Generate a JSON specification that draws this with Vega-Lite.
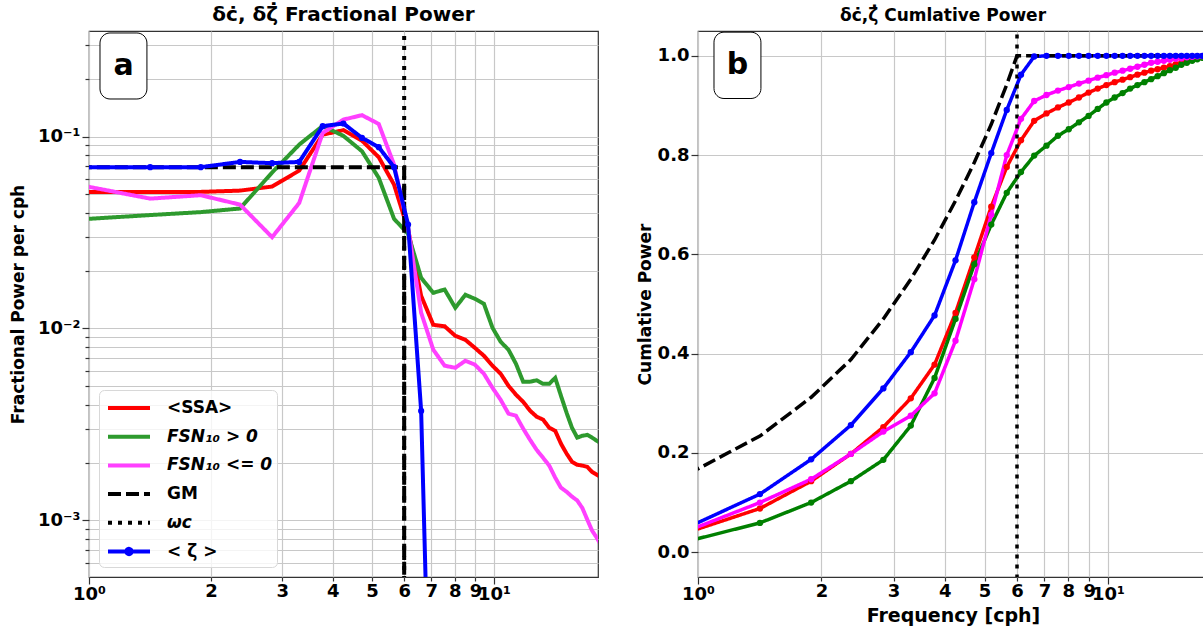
{
"$schema":"https://vega.github.io/schema/vega-lite/v6.json",
"background":"white",
"padding":{"left":8,"top":4,"right":0,"bottom":0},
"config":{
"font":"DejaVu Sans",
"view":{"stroke":"#333333","strokeWidth":1.2},
"axis":{"labelFont":"DejaVu Sans","labelFontWeight":"bold","labelFontSize":18,"labelColor":"black","titleFont":"DejaVu Sans","titleFontWeight":"bold","titleFontSize":17,"titleColor":"black","domain":false,"tickColor":"#333333","tickWidth":1.2,"gridColor":"#c8c8c8","gridWidth":1.2,"labelFlush":false,"labelOverlap":false,"labelBound":false},
"title":{"font":"DejaVu Sans","fontWeight":"bold","fontSize":19,"offset":6,"color":"black","anchor":"middle","frame":"group"},
"concat":{"spacing":36}
},
"resolve":{"scale":{"color":"independent","strokeDash":"independent","x":"independent","y":"independent"}},
"datasets":{"d":[
{"p":"a","s":"<SSA>","f":0.944,"v":0.0515},{"p":"a","s":"<SSA>","f":1.416,"v":0.0515},{"p":"a","s":"<SSA>","f":1.888,"v":0.0515},{"p":"a","s":"<SSA>","f":2.36,"v":0.0523},{"p":"a","s":"<SSA>","f":2.832,"v":0.0549},{"p":"a","s":"<SSA>","f":3.304,"v":0.0665},{"p":"a","s":"<SSA>","f":3.776,"v":0.1024},{"p":"a","s":"<SSA>","f":4.248,"v":0.108},{"p":"a","s":"<SSA>","f":4.72,"v":0.0953},{"p":"a","s":"<SSA>","f":5.192,"v":0.0781},{"p":"a","s":"<SSA>","f":5.664,"v":0.0562},{"p":"a","s":"<SSA>","f":6.136,"v":0.0327},{"p":"a","s":"<SSA>","f":6.608,"v":0.0148},{"p":"a","s":"<SSA>","f":7.08,"v":0.01045},{"p":"a","s":"<SSA>","f":7.552,"v":0.01027},{"p":"a","s":"<SSA>","f":8.024,"v":0.00916},{"p":"a","s":"<SSA>","f":8.496,"v":0.00873},{"p":"a","s":"<SSA>","f":8.968,"v":0.00793},{"p":"a","s":"<SSA>","f":9.44,"v":0.00721},{"p":"a","s":"<SSA>","f":9.912,"v":0.0064},{"p":"a","s":"<SSA>","f":10.384,"v":0.00581},{"p":"a","s":"<SSA>","f":10.856,"v":0.00503},{"p":"a","s":"<SSA>","f":11.328,"v":0.00452},{"p":"a","s":"<SSA>","f":11.8,"v":0.00415},{"p":"a","s":"<SSA>","f":12.272,"v":0.00373},{"p":"a","s":"<SSA>","f":12.744,"v":0.00347},{"p":"a","s":"<SSA>","f":13.216,"v":0.00335},{"p":"a","s":"<SSA>","f":13.688,"v":0.00304},{"p":"a","s":"<SSA>","f":14.16,"v":0.00293},{"p":"a","s":"<SSA>","f":14.632,"v":0.00251},{"p":"a","s":"<SSA>","f":15.104,"v":0.00223},{"p":"a","s":"<SSA>","f":15.576,"v":0.00202},{"p":"a","s":"<SSA>","f":16.048,"v":0.00195},{"p":"a","s":"<SSA>","f":16.52,"v":0.00193},{"p":"a","s":"<SSA>","f":16.992,"v":0.0019},{"p":"a","s":"<SSA>","f":17.464,"v":0.00179},{"p":"a","s":"<SSA>","f":17.936,"v":0.00173},{"p":"a","s":"<SSA>","f":18.408,"v":0.00167},
{"p":"a","s":"FSN₁₀ > 0","f":0.944,"v":0.037},{"p":"a","s":"FSN₁₀ > 0","f":1.416,"v":0.039},{"p":"a","s":"FSN₁₀ > 0","f":1.888,"v":0.0404},{"p":"a","s":"FSN₁₀ > 0","f":2.36,"v":0.0422},{"p":"a","s":"FSN₁₀ > 0","f":2.832,"v":0.065},{"p":"a","s":"FSN₁₀ > 0","f":3.304,"v":0.0908},{"p":"a","s":"FSN₁₀ > 0","f":3.776,"v":0.1137},{"p":"a","s":"FSN₁₀ > 0","f":4.248,"v":0.1008},{"p":"a","s":"FSN₁₀ > 0","f":4.72,"v":0.0839},{"p":"a","s":"FSN₁₀ > 0","f":5.192,"v":0.061},{"p":"a","s":"FSN₁₀ > 0","f":5.664,"v":0.0373},{"p":"a","s":"FSN₁₀ > 0","f":6.136,"v":0.0311},{"p":"a","s":"FSN₁₀ > 0","f":6.608,"v":0.01837},{"p":"a","s":"FSN₁₀ > 0","f":7.08,"v":0.01534},{"p":"a","s":"FSN₁₀ > 0","f":7.552,"v":0.01596},{"p":"a","s":"FSN₁₀ > 0","f":8.024,"v":0.01282},{"p":"a","s":"FSN₁₀ > 0","f":8.496,"v":0.01498},{"p":"a","s":"FSN₁₀ > 0","f":8.968,"v":0.01428},{"p":"a","s":"FSN₁₀ > 0","f":9.44,"v":0.01346},{"p":"a","s":"FSN₁₀ > 0","f":9.912,"v":0.01009},{"p":"a","s":"FSN₁₀ > 0","f":10.384,"v":0.00853},{"p":"a","s":"FSN₁₀ > 0","f":10.856,"v":0.00775},{"p":"a","s":"FSN₁₀ > 0","f":11.328,"v":0.00655},{"p":"a","s":"FSN₁₀ > 0","f":11.8,"v":0.00528},{"p":"a","s":"FSN₁₀ > 0","f":12.272,"v":0.00528},{"p":"a","s":"FSN₁₀ > 0","f":12.744,"v":0.00537},{"p":"a","s":"FSN₁₀ > 0","f":13.216,"v":0.00515},{"p":"a","s":"FSN₁₀ > 0","f":13.688,"v":0.00515},{"p":"a","s":"FSN₁₀ > 0","f":14.16,"v":0.00553},{"p":"a","s":"FSN₁₀ > 0","f":14.632,"v":0.00446},{"p":"a","s":"FSN₁₀ > 0","f":15.104,"v":0.00364},{"p":"a","s":"FSN₁₀ > 0","f":15.576,"v":0.00304},{"p":"a","s":"FSN₁₀ > 0","f":16.048,"v":0.0027},{"p":"a","s":"FSN₁₀ > 0","f":16.52,"v":0.00276},{"p":"a","s":"FSN₁₀ > 0","f":16.992,"v":0.00279},{"p":"a","s":"FSN₁₀ > 0","f":17.464,"v":0.0027},{"p":"a","s":"FSN₁₀ > 0","f":17.936,"v":0.0026},{"p":"a","s":"FSN₁₀ > 0","f":18.408,"v":0.00251},
{"p":"a","s":"FSN₁₀ <= 0","f":0.944,"v":0.056},{"p":"a","s":"FSN₁₀ <= 0","f":1.416,"v":0.0475},{"p":"a","s":"FSN₁₀ <= 0","f":1.888,"v":0.0495},{"p":"a","s":"FSN₁₀ <= 0","f":2.36,"v":0.0442},{"p":"a","s":"FSN₁₀ <= 0","f":2.832,"v":0.0299},{"p":"a","s":"FSN₁₀ <= 0","f":3.304,"v":0.0451},{"p":"a","s":"FSN₁₀ <= 0","f":3.776,"v":0.1045},{"p":"a","s":"FSN₁₀ <= 0","f":4.248,"v":0.1226},{"p":"a","s":"FSN₁₀ <= 0","f":4.72,"v":0.1293},{"p":"a","s":"FSN₁₀ <= 0","f":5.192,"v":0.1164},{"p":"a","s":"FSN₁₀ <= 0","f":5.664,"v":0.0715},{"p":"a","s":"FSN₁₀ <= 0","f":6.136,"v":0.03345},{"p":"a","s":"FSN₁₀ <= 0","f":6.608,"v":0.01208},{"p":"a","s":"FSN₁₀ <= 0","f":7.08,"v":0.00775},{"p":"a","s":"FSN₁₀ <= 0","f":7.552,"v":0.0064},{"p":"a","s":"FSN₁₀ <= 0","f":8.024,"v":0.00624},{"p":"a","s":"FSN₁₀ <= 0","f":8.496,"v":0.00679},{"p":"a","s":"FSN₁₀ <= 0","f":8.968,"v":0.00648},{"p":"a","s":"FSN₁₀ <= 0","f":9.44,"v":0.00581},{"p":"a","s":"FSN₁₀ <= 0","f":9.912,"v":0.00491},{"p":"a","s":"FSN₁₀ <= 0","f":10.384,"v":0.00425},{"p":"a","s":"FSN₁₀ <= 0","f":10.856,"v":0.0036},{"p":"a","s":"FSN₁₀ <= 0","f":11.328,"v":0.00351},{"p":"a","s":"FSN₁₀ <= 0","f":11.8,"v":0.00301},{"p":"a","s":"FSN₁₀ <= 0","f":12.272,"v":0.00263},{"p":"a","s":"FSN₁₀ <= 0","f":12.744,"v":0.00233},{"p":"a","s":"FSN₁₀ <= 0","f":13.216,"v":0.00212},{"p":"a","s":"FSN₁₀ <= 0","f":13.688,"v":0.00193},{"p":"a","s":"FSN₁₀ <= 0","f":14.16,"v":0.00167},{"p":"a","s":"FSN₁₀ <= 0","f":14.632,"v":0.00148},{"p":"a","s":"FSN₁₀ <= 0","f":15.104,"v":0.00141},{"p":"a","s":"FSN₁₀ <= 0","f":15.576,"v":0.00133},{"p":"a","s":"FSN₁₀ <= 0","f":16.048,"v":0.00127},{"p":"a","s":"FSN₁₀ <= 0","f":16.52,"v":0.00116},{"p":"a","s":"FSN₁₀ <= 0","f":16.992,"v":0.00101},{"p":"a","s":"FSN₁₀ <= 0","f":17.464,"v":0.000884},{"p":"a","s":"FSN₁₀ <= 0","f":17.936,"v":0.000812},{"p":"a","s":"FSN₁₀ <= 0","f":18.408,"v":0.000738},
{"p":"a","s":"GM","f":0.944,"v":0.0693},{"p":"a","s":"GM","f":6.0,"v":0.0693},{"p":"a","s":"GM","f":6.0,"v":1e-8},
{"p":"a","s":"ωc","f":6.0,"v":1e-8},{"p":"a","s":"ωc","f":6.0,"v":10},
{"p":"a","s":"< ζ >","f":0.944,"v":0.0693},{"p":"a","s":"< ζ >","f":1.416,"v":0.0693},{"p":"a","s":"< ζ >","f":1.888,"v":0.0693},{"p":"a","s":"< ζ >","f":2.36,"v":0.0738},{"p":"a","s":"< ζ >","f":2.832,"v":0.0727},{"p":"a","s":"< ζ >","f":3.304,"v":0.0738},{"p":"a","s":"< ζ >","f":3.776,"v":0.1133},{"p":"a","s":"< ζ >","f":4.248,"v":0.117},{"p":"a","s":"< ζ >","f":4.72,"v":0.0985},{"p":"a","s":"< ζ >","f":5.192,"v":0.0881},{"p":"a","s":"< ζ >","f":5.664,"v":0.0693},{"p":"a","s":"< ζ >","f":6.136,"v":0.0348},{"p":"a","s":"< ζ >","f":6.608,"v":0.00372},{"p":"a","s":"< ζ >","f":7.08,"v":0.000015},
{"p":"b","s":"<SSA>","f":0.944,"v":0.04},{"p":"b","s":"<SSA>","f":1.416,"v":0.088},{"p":"b","s":"<SSA>","f":1.888,"v":0.143},{"p":"b","s":"<SSA>","f":2.36,"v":0.198},{"p":"b","s":"<SSA>","f":2.832,"v":0.252},{"p":"b","s":"<SSA>","f":3.304,"v":0.31},{"p":"b","s":"<SSA>","f":3.776,"v":0.378},{"p":"b","s":"<SSA>","f":4.248,"v":0.482},{"p":"b","s":"<SSA>","f":4.72,"v":0.594},{"p":"b","s":"<SSA>","f":5.192,"v":0.696},{"p":"b","s":"<SSA>","f":5.664,"v":0.776},{"p":"b","s":"<SSA>","f":6.136,"v":0.83},{"p":"b","s":"<SSA>","f":6.608,"v":0.869},{"p":"b","s":"<SSA>","f":7.08,"v":0.884},{"p":"b","s":"<SSA>","f":7.552,"v":0.896},{"p":"b","s":"<SSA>","f":8.024,"v":0.906},{"p":"b","s":"<SSA>","f":8.496,"v":0.916},{"p":"b","s":"<SSA>","f":8.968,"v":0.926},{"p":"b","s":"<SSA>","f":9.44,"v":0.934},{"p":"b","s":"<SSA>","f":9.912,"v":0.941},{"p":"b","s":"<SSA>","f":10.384,"v":0.947},{"p":"b","s":"<SSA>","f":10.856,"v":0.952},{"p":"b","s":"<SSA>","f":11.328,"v":0.957},{"p":"b","s":"<SSA>","f":11.8,"v":0.962},{"p":"b","s":"<SSA>","f":12.272,"v":0.966},{"p":"b","s":"<SSA>","f":12.744,"v":0.97},{"p":"b","s":"<SSA>","f":13.216,"v":0.973},{"p":"b","s":"<SSA>","f":13.688,"v":0.976},{"p":"b","s":"<SSA>","f":14.16,"v":0.979},{"p":"b","s":"<SSA>","f":14.632,"v":0.983},{"p":"b","s":"<SSA>","f":15.104,"v":0.986},{"p":"b","s":"<SSA>","f":15.576,"v":0.989},{"p":"b","s":"<SSA>","f":16.048,"v":0.992},{"p":"b","s":"<SSA>","f":16.52,"v":0.995},{"p":"b","s":"<SSA>","f":16.992,"v":0.997},{"p":"b","s":"<SSA>","f":17.464,"v":0.999},{"p":"b","s":"<SSA>","f":17.936,"v":1.0},
{"p":"b","s":"FSN₁₀ > 0","f":0.944,"v":0.022},{"p":"b","s":"FSN₁₀ > 0","f":1.416,"v":0.059},{"p":"b","s":"FSN₁₀ > 0","f":1.888,"v":0.1},{"p":"b","s":"FSN₁₀ > 0","f":2.36,"v":0.143},{"p":"b","s":"FSN₁₀ > 0","f":2.832,"v":0.186},{"p":"b","s":"FSN₁₀ > 0","f":3.304,"v":0.255},{"p":"b","s":"FSN₁₀ > 0","f":3.776,"v":0.351},{"p":"b","s":"FSN₁₀ > 0","f":4.248,"v":0.47},{"p":"b","s":"FSN₁₀ > 0","f":4.72,"v":0.58},{"p":"b","s":"FSN₁₀ > 0","f":5.192,"v":0.66},{"p":"b","s":"FSN₁₀ > 0","f":5.664,"v":0.724},{"p":"b","s":"FSN₁₀ > 0","f":6.136,"v":0.766},{"p":"b","s":"FSN₁₀ > 0","f":6.608,"v":0.799},{"p":"b","s":"FSN₁₀ > 0","f":7.08,"v":0.819},{"p":"b","s":"FSN₁₀ > 0","f":7.552,"v":0.839},{"p":"b","s":"FSN₁₀ > 0","f":8.024,"v":0.852},{"p":"b","s":"FSN₁₀ > 0","f":8.496,"v":0.866},{"p":"b","s":"FSN₁₀ > 0","f":8.968,"v":0.879},{"p":"b","s":"FSN₁₀ > 0","f":9.44,"v":0.893},{"p":"b","s":"FSN₁₀ > 0","f":9.912,"v":0.906},{"p":"b","s":"FSN₁₀ > 0","f":10.384,"v":0.916},{"p":"b","s":"FSN₁₀ > 0","f":10.856,"v":0.925},{"p":"b","s":"FSN₁₀ > 0","f":11.328,"v":0.934},{"p":"b","s":"FSN₁₀ > 0","f":11.8,"v":0.941},{"p":"b","s":"FSN₁₀ > 0","f":12.272,"v":0.947},{"p":"b","s":"FSN₁₀ > 0","f":12.744,"v":0.953},{"p":"b","s":"FSN₁₀ > 0","f":13.216,"v":0.959},{"p":"b","s":"FSN₁₀ > 0","f":13.688,"v":0.965},{"p":"b","s":"FSN₁₀ > 0","f":14.16,"v":0.971},{"p":"b","s":"FSN₁₀ > 0","f":14.632,"v":0.976},{"p":"b","s":"FSN₁₀ > 0","f":15.104,"v":0.982},{"p":"b","s":"FSN₁₀ > 0","f":15.576,"v":0.986},{"p":"b","s":"FSN₁₀ > 0","f":16.048,"v":0.99},{"p":"b","s":"FSN₁₀ > 0","f":16.52,"v":0.993},{"p":"b","s":"FSN₁₀ > 0","f":16.992,"v":0.996},{"p":"b","s":"FSN₁₀ > 0","f":17.464,"v":0.999},{"p":"b","s":"FSN₁₀ > 0","f":17.936,"v":1.0},
{"p":"b","s":"FSN₁₀ <= 0","f":0.944,"v":0.043},{"p":"b","s":"FSN₁₀ <= 0","f":1.416,"v":0.1},{"p":"b","s":"FSN₁₀ <= 0","f":1.888,"v":0.147},{"p":"b","s":"FSN₁₀ <= 0","f":2.36,"v":0.198},{"p":"b","s":"FSN₁₀ <= 0","f":2.832,"v":0.243},{"p":"b","s":"FSN₁₀ <= 0","f":3.304,"v":0.275},{"p":"b","s":"FSN₁₀ <= 0","f":3.776,"v":0.32},{"p":"b","s":"FSN₁₀ <= 0","f":4.248,"v":0.426},{"p":"b","s":"FSN₁₀ <= 0","f":4.72,"v":0.55},{"p":"b","s":"FSN₁₀ <= 0","f":5.192,"v":0.68},{"p":"b","s":"FSN₁₀ <= 0","f":5.664,"v":0.8},{"p":"b","s":"FSN₁₀ <= 0","f":6.136,"v":0.873},{"p":"b","s":"FSN₁₀ <= 0","f":6.608,"v":0.909},{"p":"b","s":"FSN₁₀ <= 0","f":7.08,"v":0.921},{"p":"b","s":"FSN₁₀ <= 0","f":7.552,"v":0.93},{"p":"b","s":"FSN₁₀ <= 0","f":8.024,"v":0.937},{"p":"b","s":"FSN₁₀ <= 0","f":8.496,"v":0.944},{"p":"b","s":"FSN₁₀ <= 0","f":8.968,"v":0.95},{"p":"b","s":"FSN₁₀ <= 0","f":9.44,"v":0.956},{"p":"b","s":"FSN₁₀ <= 0","f":9.912,"v":0.961},{"p":"b","s":"FSN₁₀ <= 0","f":10.384,"v":0.966},{"p":"b","s":"FSN₁₀ <= 0","f":10.856,"v":0.97},{"p":"b","s":"FSN₁₀ <= 0","f":11.328,"v":0.974},{"p":"b","s":"FSN₁₀ <= 0","f":11.8,"v":0.978},{"p":"b","s":"FSN₁₀ <= 0","f":12.272,"v":0.982},{"p":"b","s":"FSN₁₀ <= 0","f":12.744,"v":0.986},{"p":"b","s":"FSN₁₀ <= 0","f":13.216,"v":0.988},{"p":"b","s":"FSN₁₀ <= 0","f":13.688,"v":0.99},{"p":"b","s":"FSN₁₀ <= 0","f":14.16,"v":0.992},{"p":"b","s":"FSN₁₀ <= 0","f":14.632,"v":0.994},{"p":"b","s":"FSN₁₀ <= 0","f":15.104,"v":0.995},{"p":"b","s":"FSN₁₀ <= 0","f":15.576,"v":0.997},{"p":"b","s":"FSN₁₀ <= 0","f":16.048,"v":0.998},{"p":"b","s":"FSN₁₀ <= 0","f":16.52,"v":0.999},{"p":"b","s":"FSN₁₀ <= 0","f":16.992,"v":0.9995},{"p":"b","s":"FSN₁₀ <= 0","f":17.464,"v":1.0},{"p":"b","s":"FSN₁₀ <= 0","f":17.936,"v":1.0},
{"p":"b","s":"< ζ >","f":0.944,"v":0.05},{"p":"b","s":"< ζ >","f":1.416,"v":0.117},{"p":"b","s":"< ζ >","f":1.888,"v":0.187},{"p":"b","s":"< ζ >","f":2.36,"v":0.256},{"p":"b","s":"< ζ >","f":2.832,"v":0.33},{"p":"b","s":"< ζ >","f":3.304,"v":0.403},{"p":"b","s":"< ζ >","f":3.776,"v":0.477},{"p":"b","s":"< ζ >","f":4.248,"v":0.588},{"p":"b","s":"< ζ >","f":4.72,"v":0.705},{"p":"b","s":"< ζ >","f":5.192,"v":0.804},{"p":"b","s":"< ζ >","f":5.664,"v":0.891},{"p":"b","s":"< ζ >","f":6.136,"v":0.962},{"p":"b","s":"< ζ >","f":6.608,"v":0.9986},{"p":"b","s":"< ζ >","f":7.08,"v":1.0},{"p":"b","s":"< ζ >","f":7.552,"v":1.0},{"p":"b","s":"< ζ >","f":8.024,"v":1.0},{"p":"b","s":"< ζ >","f":8.496,"v":1.0},{"p":"b","s":"< ζ >","f":8.968,"v":1.0},{"p":"b","s":"< ζ >","f":9.44,"v":1.0},{"p":"b","s":"< ζ >","f":9.912,"v":1.0},{"p":"b","s":"< ζ >","f":10.384,"v":1.0},{"p":"b","s":"< ζ >","f":10.856,"v":1.0},{"p":"b","s":"< ζ >","f":11.328,"v":1.0},{"p":"b","s":"< ζ >","f":11.8,"v":1.0},{"p":"b","s":"< ζ >","f":12.272,"v":1.0},{"p":"b","s":"< ζ >","f":12.744,"v":1.0},{"p":"b","s":"< ζ >","f":13.216,"v":1.0},{"p":"b","s":"< ζ >","f":13.688,"v":1.0},{"p":"b","s":"< ζ >","f":14.16,"v":1.0},{"p":"b","s":"< ζ >","f":14.632,"v":1.0},{"p":"b","s":"< ζ >","f":15.104,"v":1.0},{"p":"b","s":"< ζ >","f":15.576,"v":1.0},{"p":"b","s":"< ζ >","f":16.048,"v":1.0},{"p":"b","s":"< ζ >","f":16.52,"v":1.0},{"p":"b","s":"< ζ >","f":16.992,"v":1.0},{"p":"b","s":"< ζ >","f":17.464,"v":1.0},{"p":"b","s":"< ζ >","f":17.936,"v":1.0},
{"p":"b","s":"GM","f":0.944,"v":0.157},{"p":"b","s":"GM","f":1.416,"v":0.234},{"p":"b","s":"GM","f":1.888,"v":0.312},{"p":"b","s":"GM","f":2.36,"v":0.388},{"p":"b","s":"GM","f":2.832,"v":0.47},{"p":"b","s":"GM","f":3.304,"v":0.55},{"p":"b","s":"GM","f":3.776,"v":0.629},{"p":"b","s":"GM","f":4.248,"v":0.708},{"p":"b","s":"GM","f":4.72,"v":0.785},{"p":"b","s":"GM","f":5.192,"v":0.862},{"p":"b","s":"GM","f":5.664,"v":0.942},{"p":"b","s":"GM","f":6.0,"v":1.0},{"p":"b","s":"GM","f":6.136,"v":1.0},{"p":"b","s":"GM","f":8.024,"v":1.0},{"p":"b","s":"GM","f":10.384,"v":1.0},{"p":"b","s":"GM","f":12.744,"v":1.0},{"p":"b","s":"GM","f":14.632,"v":1.0},{"p":"b","s":"GM","f":16.52,"v":1.0},
{"p":"b","s":"ωc","f":6.0,"v":-1},{"p":"b","s":"ωc","f":6.0,"v":2}
]},
"hconcat":[
{
"width":509,"height":546,
"title":{"text":"δċ, δζ̇ Fractional Power","fontSize":20},
"layer":[
{"data":{"name":"d"},"transform":[{"filter":"datum.p === 'a'"}],
"mark":{"type":"line","strokeWidth":4,"clip":true},
"encoding":{
"x":{"field":"f","type":"quantitative","scale":{"type":"log","domain":[1,18.06],"nice":false},
"axis":{"values":[1,2,3,4,5,6,7,8,9,10],"labelExpr":"datum.value == 1 ? '10⁰' : datum.value == 10 ? '10¹' : format(datum.value, 'd')","title":null,"grid":true,"labelPadding":1,"tickSize":{"condition":{"test":"datum.value == 1 || datum.value == 10","value":7},"value":4}}},
"y":{"field":"v","type":"quantitative","scale":{"type":"log","domain":[0.000507,0.355],"nice":false},
"axis":{"values":[0.0006,0.0007,0.0008,0.0009,0.001,0.002,0.003,0.004,0.005,0.006,0.007,0.008,0.009,0.01,0.02,0.03,0.04,0.05,0.06,0.07,0.08,0.09,0.1,0.2,0.3],"labelExpr":"datum.value == 0.1 ? '10⁻¹' : datum.value == 0.01 ? '10⁻²' : datum.value == 0.001 ? '10⁻³' : ''","title":"Fractional Power per cph","grid":true,"minExtent":56,"maxExtent":56,"titlePadding":6,"labelPadding":2,"tickSize":{"condition":{"test":"datum.value == 0.1 || datum.value == 0.01 || datum.value == 0.001","value":7},"value":4}}},
"color":{"field":"s","type":"nominal","scale":{"domain":["<SSA>","FSN₁₀ > 0","FSN₁₀ <= 0","GM","ωc","< ζ >"],"range":["#ff0000","#2e9a2e","#ff40ff","#000000","#000000","#0000ff"]},
"legend":{"orient":"none","legendX":10,"legendY":359,"title":null,"symbolType":"stroke","symbolSize":576,"symbolStrokeWidth":4,"labelFont":"DejaVu Sans","labelFontSize":17,"labelFontWeight":"bold","labelColor":"black","labelOffset":36,"rowPadding":6.7,"padding":4,"fillColor":"rgba(255,255,255,0.8)","strokeColor":"#d8d8d8","cornerRadius":5,
"encode":{"symbols":{"update":{"shape":{"signal":"datum.value === '< ζ >' ? 'M-0.75,0L2.75,0M1.22,0A0.22,0.22,0,1,1,0.78,0A0.22,0.22,0,1,1,1.22,0' : 'M-0.75,0L2.75,0'"}}},"labels":{"update":{"fontStyle":{"signal":"indexof(datum.value,'FSN') >= 0 || datum.value === 'ωc' ? 'italic' : 'normal'"}}}}}},
"strokeDash":{"field":"s","type":"nominal","scale":{"domain":["<SSA>","FSN₁₀ > 0","FSN₁₀ <= 0","GM","ωc","< ζ >"],"range":[[1,0],[1,0],[1,0],[13,5],[4,6],[1,0]]},
"legend":{"orient":"none","legendX":10,"legendY":359,"title":null,"symbolType":"stroke","symbolSize":576,"symbolStrokeWidth":4,"labelFont":"DejaVu Sans","labelFontSize":17,"labelFontWeight":"bold","labelColor":"black","labelOffset":36,"rowPadding":6.7,"padding":4,"fillColor":"rgba(255,255,255,0.8)","strokeColor":"#d8d8d8","cornerRadius":5}}
}},
{"data":{"name":"d"},"transform":[{"filter":"datum.p === 'a' && datum.s === '< ζ >'"}],
"mark":{"type":"point","filled":true,"size":38,"opacity":1,"clip":true,"color":"#0000ff"},
"encoding":{"x":{"field":"f","type":"quantitative"},"y":{"field":"v","type":"quantitative"}}},
{"data":{"values":[{}]},
"mark":{"type":"rect","cornerRadius":10,"fill":"white","stroke":"black","strokeWidth":1},
"encoding":{"x":{"datum":1.0645},"x2":{"datum":1.39},"y":{"datum":0.3467},"y2":{"datum":0.157}}},
{"data":{"values":[{}]},
"mark":{"type":"text","text":"a","font":"DejaVu Sans","fontSize":30,"fontWeight":"bold","align":"center","baseline":"middle","color":"black"},
"encoding":{"x":{"datum":1.217},"y":{"datum":0.2333}}}
]
},
{
"width":510,"height":546,
"title":{"text":"δċ,ζ̇ Cumlative Power","fontSize":17,"dx":-10},
"layer":[
{"data":{"name":"d"},"transform":[{"filter":"datum.p === 'b'"}],
"mark":{"type":"line","strokeWidth":3.5,"clip":true},
"encoding":{
"x":{"field":"f","type":"quantitative","scale":{"type":"log","domain":[1,17.54],"nice":false},
"axis":{"values":[1,2,3,4,5,6,7,8,9,10],"labelExpr":"datum.value == 1 ? '10⁰' : datum.value == 10 ? '10¹' : format(datum.value, 'd')","title":"Frequency [cph]","titleFontSize":19,"titlePadding":3,"grid":true,"labelPadding":1,"tickSize":{"condition":{"test":"datum.value == 1 || datum.value == 10","value":7},"value":4}}},
"y":{"field":"v","type":"quantitative","scale":{"domain":[-0.05,1.05],"nice":false,"zero":false},
"axis":{"values":[0,0.2,0.4,0.6,0.8,1.0],"format":".1f","title":"Cumlative Power","grid":true,"minExtent":40,"maxExtent":40,"titlePadding":4,"labelPadding":2,"tickSize":7}},
"color":{"field":"s","type":"nominal","scale":{"domain":["<SSA>","FSN₁₀ > 0","FSN₁₀ <= 0","GM","ωc","< ζ >"],"range":["#ff0000","#008000","#ff00ff","#000000","#000000","#0000ff"]},"legend":null},
"strokeDash":{"field":"s","type":"nominal","scale":{"domain":["<SSA>","FSN₁₀ > 0","FSN₁₀ <= 0","GM","ωc","< ζ >"],"range":[[1,0],[1,0],[1,0],[13,5],[4,6],[1,0]]},"legend":null}
}},
{"data":{"name":"d"},"transform":[{"filter":"datum.p === 'b' && datum.s !== 'GM' && datum.s !== 'ωc'"}],
"mark":{"type":"point","filled":true,"size":40,"opacity":1,"clip":true},
"encoding":{"x":{"field":"f","type":"quantitative"},"y":{"field":"v","type":"quantitative"},
"color":{"field":"s","type":"nominal","legend":null}}},
{"data":{"values":[{}]},
"mark":{"type":"rect","cornerRadius":10,"fill":"white","stroke":"black","strokeWidth":1},
"encoding":{"x":{"datum":1.094},"x2":{"datum":1.424},"y":{"datum":1.0477},"y2":{"datum":0.914}}},
{"data":{"values":[{}]},
"mark":{"type":"text","text":"b","font":"DejaVu Sans","fontSize":30,"fontWeight":"bold","align":"center","baseline":"middle","color":"black"},
"encoding":{"x":{"datum":1.248},"y":{"datum":0.981}}}
]
}
]
}
